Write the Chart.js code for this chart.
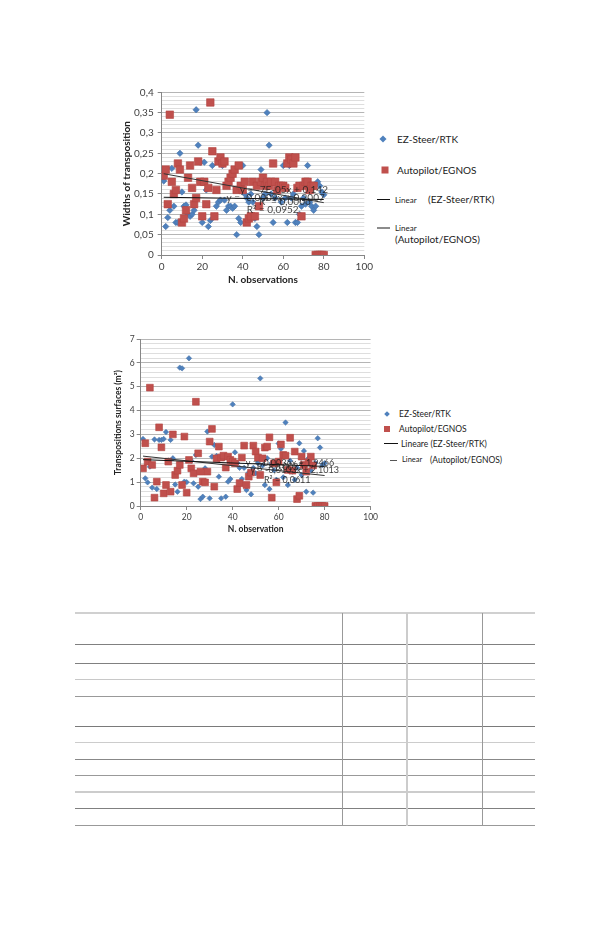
<!DOCTYPE html>
<html>
<head>
<meta charset="utf-8">
<script src="https://cdn.jsdelivr.net/npm/chart.js@4.4.0/dist/chart.umd.min.js"></script>
<style>
  body { margin: 0; background: #fff; width: 610px; height: 925px; position: relative; overflow: hidden;
         font-family: Lato, "Open Sans", sans-serif; color: #222; }
  canvas { position: absolute; }
  .txt { position: absolute; white-space: nowrap; line-height: 1; transform: translateY(-50%); }
  .dia { position: absolute; background: #4F81BD; transform: translate(-50%, -50%) rotate(45deg); }
  .sq { position: absolute; background: #C0504D; transform: translate(-50%, -50%); }
  .ln { position: absolute; height: 0; }
  .hl { position: absolute; left: 75px; width: 460px; }
  .vl { position: absolute; top: 613px; height: 213px; }
</style>
</head>
<body>
<canvas id="widthChart" width="280" height="210" style="left:95px;top:82px"></canvas>
<canvas id="surfChart" width="295" height="210" style="left:85px;top:330px"></canvas>

<!-- legend, first chart -->
<div class="dia" style="left:383px;top:139px;width:5px;height:5px"></div>
<div class="txt" style="left:397px;top:139px;font-size:10px" id="lgA1"></div>
<div class="sq" style="left:385px;top:170px;width:7px;height:7px"></div>
<div class="txt" style="left:397px;top:170px;font-size:10px" id="lgA2"></div>
<div class="ln" style="left:377px;top:199px;width:13px;border-top:1px solid #111"></div>
<div class="txt" style="left:395px;top:200px;font-size:8px">Linear</div>
<div class="txt" style="left:428px;top:199px;font-size:10px">(EZ-Steer/RTK)</div>
<div class="ln" style="left:377px;top:227px;width:13px;border-top:2px solid #8c8c8c"></div>
<div class="txt" style="left:395px;top:228px;font-size:8px">Linear</div>
<div class="txt" style="left:395px;top:239px;font-size:10px">(Autopilot/EGNOS)</div>

<!-- legend, second chart -->
<div class="dia" style="left:387px;top:414px;width:4px;height:4px"></div>
<div class="txt" style="left:399px;top:414px;font-size:8.5px" id="lgB1"></div>
<div class="sq" style="left:387px;top:429px;width:6px;height:6px"></div>
<div class="txt" style="left:399px;top:429px;font-size:8.5px" id="lgB2"></div>
<div class="ln" style="left:384px;top:443px;width:14px;border-top:1px solid #111"></div>
<div class="txt" style="left:401px;top:444px;font-size:8.5px">Lineare (EZ-Steer/RTK)</div>
<div class="ln" style="left:390px;top:460px;width:7px;border-top:1px solid #555"></div>
<div class="txt" style="left:402px;top:460px;font-size:7.5px">Linear</div>
<div class="txt" style="left:430px;top:460px;font-size:8.5px">(Autopilot/EGNOS)</div>

<!-- empty table -->
<div class="hl" style="top:612px;border-top:2px solid #d0d0d0"></div>
<div class="hl" style="top:644px;border-top:1px solid #808080"></div>
<div class="hl" style="top:663px;border-top:1px solid #808080"></div>
<div class="hl" style="top:679px;border-top:1px solid #c8c8c8"></div>
<div class="hl" style="top:696px;border-top:1px solid #999"></div>
<div class="hl" style="top:726px;border-top:1px solid #7a7a7a"></div>
<div class="hl" style="top:742px;border-top:1px solid #ccc"></div>
<div class="hl" style="top:759px;border-top:1px solid #888"></div>
<div class="hl" style="top:775px;border-top:1px solid #999"></div>
<div class="hl" style="top:791px;border-top:2px solid #ccc"></div>
<div class="hl" style="top:808px;border-top:1px solid #808080"></div>
<div class="hl" style="top:825px;border-top:1px solid #999"></div>
<div class="vl" style="left:342px;border-left:1px solid #999"></div>
<div class="vl" style="left:406px;border-left:2px solid #ccc"></div>
<div class="vl" style="left:482px;border-left:1px solid #999"></div>

<script>
const seriesNames = ["EZ-Steer/RTK", "Autopilot/EGNOS"];

// widths of transposition, observations 1..80
const widthEz = [
  0.182, 0.07, 0.092, 0.11, 0.213, 0.12, 0.08, 0.08, 0.25, 0.155,
  0.12, 0.123, 0.1, 0.095, 0.1, 0.11, 0.357, 0.27, 0.228, 0.08,
  0.228, 0.16, 0.07, 0.085, 0.22, 0.095, 0.12, 0.13, 0.135, 0.22,
  0.135, 0.11, 0.12, 0.12, 0.115, 0.12, 0.05, 0.09, 0.08, 0.22,
  0.15, 0.14, 0.13, 0.15, 0.13, 0.09, 0.07, 0.05, 0.21, 0.14,
  0.15, 0.35, 0.27, 0.15, 0.08, 0.14, 0.16, 0.17, 0.13, 0.22,
  0.14, 0.08, 0.22, 0.14, 0.15, 0.08, 0.08, 0.1, 0.12, 0.14,
  0.125, 0.22, 0.13, 0.12, 0.11, 0.12, 0.18, 0.17, 0.155, 0.148
];
const widthAuto = [
  0.195, 0.21, 0.125, 0.345, 0.18, 0.15, 0.16, 0.225, 0.21, 0.08,
  0.09, 0.11, 0.19, 0.22, 0.165, 0.125, 0.14, 0.23, 0.18, 0.095,
  0.18, 0.125, 0.165, 0.375, 0.255, 0.095, 0.16, 0.23, 0.24, 0.225,
  0.23, 0.17, 0.18, 0.19, 0.2, 0.21, 0.16, 0.22, 0.17, 0.16,
  0.18, 0.08, 0.09, 0.095, 0.18, 0.095, 0.17, 0.12, 0.18, 0.19,
  0.17, 0.18, 0.17, 0.18, 0.225, 0.18, 0.16, 0.17, 0.17, 0.17,
  0.165, 0.225, 0.24, 0.235, 0.225, 0.24, 0.165, 0.17, 0.095, 0.17,
  0.18, 0.18, 0.16, 0.17, 0.17, 0, 0, 0, 0, 0
];
// transpositions surfaces (m²)
const surfEz = [
  2.81, 1.16, 0.99, 1.65, 0.77, 2.79, 0.71, 2.77, 2.77, 2.81,
  3.1, 1.9, 2.77, 2.0, 0.9, 0.6, 5.8, 5.77, 1.02, 1.0,
  6.19, 1.9, 0.95, 2.14, 0.81, 0.29, 0.39, 1.58, 3.12, 0.32,
  2.07, 2.56, 2.1, 1.23, 0.32, 2.0, 0.39, 1.02, 1.13, 4.26,
  2.25, 1.8, 1.6, 1.13, 1.6, 0.67, 1.4, 0.49, 1.6, 1.37,
  1.8, 5.35, 1.7, 0.88, 2.0, 0.71, 1.8, 1.5, 1.1, 2.62,
  2.4, 1.2, 3.5, 0.88, 1.9, 1.44, 1.1, 1.6, 2.63, 1.3,
  2.31, 0.6, 2.0, 1.5, 0.56, 1.8, 2.84, 2.45, 1.72, 1.79
];
const surfAuto = [
  1.58, 2.63, 1.86, 4.96, 1.72, 0.35, 1.02, 3.3, 2.46, 0.53,
  0.88, 1.86, 0.6, 3.0, 1.3, 1.48, 1.72, 0.88, 2.91, 0.56,
  1.93, 1.58, 1.37, 4.37, 2.21, 1.44, 1.02, 0.99, 1.44, 2.7,
  3.23, 0.81, 2.0, 2.49, 2.03, 2.11, 1.61, 2.07, 1.93, 1.86,
  1.79, 0.71, 0.96, 2.03, 2.53, 0.88, 1.23, 1.4, 2.53, 2.28,
  2.03, 1.3, 2.0, 2.45, 2.49, 2.88, 0.35, 1.79, 0.99, 1.86,
  2.58, 2.14, 2.11, 1.51, 2.86, 1.48, 2.28, 0.29, 0.43, 2.07,
  1.72, 1.44, 1.83, 2.07, 1.7, 0, 0, 0, 0, 0
];

// printed trendlines [EZ-Steer, Autopilot]
const widthSlopes = [-0.00007, -0.0009];
const widthIntercepts = [0.142, 0.2007];
const widthTrendText = ["y = -7E-05x + 0,142", "y = -0,0009x + 0,2007", "R² = 0,0006", "R² = 0,0952"];
const surfSlopes = [-0.0036, -0.0103];
const surfIntercepts = [1.9466, 2.1013];
const surfTrendText = ["y = -0,0036x + 1,9466", "y = -0,0103x + 2,1013", "R² = 0,0035", "R² = 0,0611"];

const xTicks = [0, 20, 40, 60, 80, 100];

document.getElementById("lgA1").textContent = seriesNames[0];
document.getElementById("lgA2").textContent = seriesNames[1];
document.getElementById("lgB1").textContent = seriesNames[0];
document.getElementById("lgB2").textContent = seriesNames[1];

const FONT = "Lato, 'Open Sans', sans-serif";
const BLUE = "#4F81BD";
const RED = "#C0504D";

function toPoints(values) {
  return values.map((v, i) => ({ x: i + 1, y: v }));
}
function trendPoints(slope, intercept, n) {
  return [1, n].map(x => ({ x: x, y: intercept + slope * x }));
}
function isMajor(v, step) {
  const k = v / step;
  return Math.abs(k - Math.round(k)) < 1e-6;
}
function fmt(v) {
  return String(Math.round(v * 1000) / 1000).replace(".", ",");
}

function textPlugin(items, font) {
  return {
    id: "trendText",
    afterDatasetsDraw(chart) {
      const { ctx, scales } = chart;
      ctx.save();
      ctx.font = font;
      ctx.fillStyle = "rgba(30,30,30,0.85)";
      ctx.textBaseline = "middle";
      items.forEach(it => {
        ctx.fillText(it.text, scales.x.getPixelForValue(it.at[0]), scales.y.getPixelForValue(it.at[1]));
      });
      ctx.restore();
    }
  };
}

function makeChart(id, p) {
  const n = p.ez.length;
  const datasets = [
    { label: "Linear (" + seriesNames[0] + ")", data: trendPoints(p.slopes[0], p.intercepts[0], n),
      showLine: true, borderColor: "#111", borderWidth: 1, pointRadius: 0 },
    { label: "Linear (" + seriesNames[1] + ")", data: trendPoints(p.slopes[1], p.intercepts[1], n),
      showLine: true, borderColor: "#333", borderWidth: 1, pointRadius: 0 },
    { label: seriesNames[1], data: toPoints(p.auto), pointStyle: "rect", pointRadius: p.sqR,
      backgroundColor: RED, borderColor: "#b34542", borderWidth: 0.6 },
    { label: seriesNames[0], data: toPoints(p.ez), pointStyle: "rectRot", pointRadius: p.diaR,
      backgroundColor: BLUE, borderColor: "#4472a8", borderWidth: 0.6 }
  ];
  return new Chart(document.getElementById(id), {
    type: "scatter",
    data: { datasets: datasets },
    options: {
      responsive: false,
      animation: false,
      layout: { padding: p.padding },
      plugins: { legend: { display: false }, tooltip: { enabled: false } },
      scales: {
        x: {
          type: "linear", min: xTicks[0], max: xTicks[xTicks.length - 1],
          afterFit: s => { s.height = p.xHeight; },
          afterBuildTicks: s => { s.ticks = xTicks.map(v => ({ value: v })); },
          ticks: { font: { family: FONT, size: p.tickSize }, color: "#404040", padding: 2, maxRotation: 0 },
          grid: { drawOnChartArea: false, tickLength: 4, tickColor: "#868686" },
          border: { color: "#868686" },
          title: { display: true, text: p.xTitle, color: "#222",
                   font: { family: FONT, size: p.titleSize, weight: "bold" }, padding: { top: 2, bottom: 4 } }
        },
        y: {
          min: 0, max: p.yMax,
          afterFit: s => { s.width = p.yWidth; },
          ticks: {
            stepSize: p.minorStep, autoSkip: false, color: "#404040", padding: p.yTickPad,
            font: { family: FONT, size: p.tickSize },
            callback: v => isMajor(v, p.majorStep) ? fmt(v) : ""
          },
          grid: {
            tickLength: 4,
            color: c => isMajor(c.tick.value, p.majorStep) ? "#b5b5b5" : "#dedede",
            tickColor: c => isMajor(c.tick.value, p.majorStep) ? "#868686" : "rgba(0,0,0,0)"
          },
          border: { color: "#868686" },
          title: { display: true, text: p.yTitle, color: "#222",
                   font: { family: FONT, size: p.titleSize, weight: "bold" } }
        }
      }
    },
    plugins: [textPlugin(p.labels, p.labelFont)]
  });
}

makeChart("widthChart", {
  ez: widthEz, auto: widthAuto, slopes: widthSlopes, intercepts: widthIntercepts,
  yMax: 0.4, minorStep: 0.01, majorStep: 0.05,
  padding: { left: 21.7, right: 10.7, top: 10.3, bottom: 2 }, yWidth: 45, xHeight: 35,
  tickSize: 10, titleSize: 10, yTickPad: 4, diaR: 3.2, sqR: 5.3,
  xTitle: "N. observations", yTitle: "Widths of transposition",
  labelFont: "10px " + FONT,
  labels: [
    { text: widthTrendText[0], at: [38.6, 0.16] },
    { text: widthTrendText[1], at: [32, 0.141] },
    { text: widthTrendText[2], at: [48, 0.131] },
    { text: widthTrendText[3], at: [42, 0.111] }
  ]
});

makeChart("surfChart", {
  ez: surfEz, auto: surfAuto, slopes: surfSlopes, intercepts: surfIntercepts,
  yMax: 7, minorStep: 0.2, majorStep: 1,
  padding: { left: 24.6, right: 7.3, top: 9, bottom: 2 }, yWidth: 31.1, xHeight: 32,
  tickSize: 8.5, titleSize: 8.5, yTickPad: 2, diaR: 2.7, sqR: 4.8,
  xTitle: "N. observation", yTitle: "Transpositions surfaces (m²)",
  labelFont: "9px " + FONT,
  labels: [
    { text: surfTrendText[0], at: [45.7, 1.79] },
    { text: surfTrendText[1], at: [47.8, 1.51] },
    { text: surfTrendText[2], at: [50.5, 1.62] },
    { text: surfTrendText[3], at: [53.6, 1.09] }
  ]
});
</script>
</body>
</html>
